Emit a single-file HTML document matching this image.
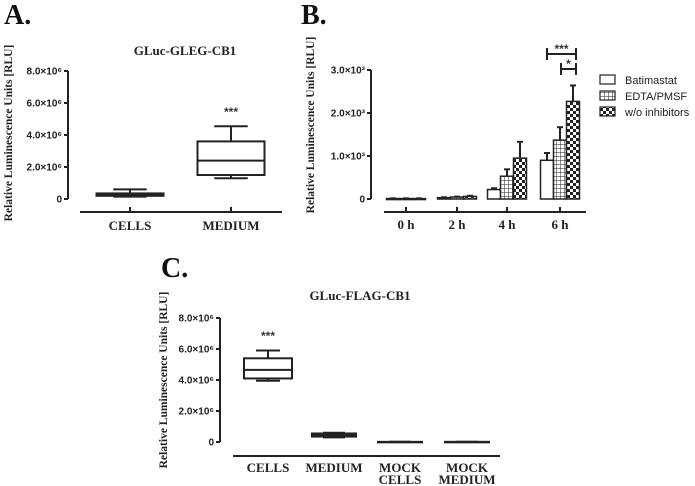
<!DOCTYPE html>
<html><head><meta charset="utf-8"><style>
html,body{margin:0;padding:0;background:#fff;}
svg{display:block;}
.tk{font-family:"Liberation Sans",Arial,sans-serif;font-weight:bold;font-size:10px;fill:#222;}
.cat{font-family:"Liberation Serif",serif;font-weight:bold;font-size:13px;fill:#222;}
.ttl{font-family:"Liberation Serif",serif;font-weight:bold;font-size:13px;fill:#222;}
.yl{font-family:"Liberation Serif",serif;font-weight:bold;font-size:11.5px;fill:#222;}
.pl{font-family:"Liberation Serif",serif;font-weight:bold;font-size:28px;fill:#111;}
.lg{font-family:"Liberation Sans",Arial,sans-serif;font-size:11px;fill:#222;}
.st{font-family:"Liberation Sans",Arial,sans-serif;font-weight:bold;font-size:12px;fill:#333;}
</style></head><body>
<svg id="fig" width="695" height="486" viewBox="0 0 695 486" xmlns="http://www.w3.org/2000/svg">
<defs>
<pattern id="grid" width="4" height="4" patternUnits="userSpaceOnUse"><rect width="4" height="4" fill="#fff"/><path d="M0 0H4M0 0V4" stroke="#222" stroke-width="1"/></pattern>
<pattern id="check" width="6" height="6" patternUnits="userSpaceOnUse"><rect width="6" height="6" fill="#fff"/><rect width="3" height="3" fill="#222"/><rect x="3" y="3" width="3" height="3" fill="#222"/></pattern>
</defs>
<text class="pl" x="4" y="24">A.</text>
<text class="pl" x="301" y="24">B.</text>
<text class="pl" x="161" y="277">C.</text>
<g id="gA"></g><g id="gB"></g><g id="gC"></g>
</svg>
<script>
// Panel A data
const catsA = ["CELLS","MEDIUM"];
const boxA = [[0.15,0.2,0.25,0.35,0.6],[1.3,1.5,2.4,3.6,4.55]]; // min,q1,med,q3,max (x10^6)
const ticksA = [0,2,4,6,8];
const tickLabA = ["0","2.0×10⁶","4.0×10⁶","6.0×10⁶","8.0×10⁶"];
// Panel B data
const catsB = ["0 h","2 h","4 h","6 h"];
const seriesB = ["Batimastat","EDTA/PMSF","w/o inhibitors"];
const batimastat = [10,30,220,900];
const edta = [10,45,530,1370];
const woInhib = [10,60,950,2270];
const errBat = [5,10,30,170];
const errEdta = [5,10,160,300];
const errWo = [5,15,380,370];
const ticksB = [0,1000,2000,3000];
const tickLabB = ["0","1.0×10³","2.0×10³","3.0×10³"];
// Panel C data
const catsC = [["CELLS"],["MEDIUM"],["MOCK","CELLS"],["MOCK","MEDIUM"]];
const boxC = [[3.95,4.1,4.65,5.4,5.9],[0.3,0.35,0.45,0.55,0.6],[0,0,0,0.01,0.02],[0,0,0,0.01,0.02]];
const ticksC = [0,2,4,6,8];
const tickLabC = ["0","2.0×10⁶","4.0×10⁶","6.0×10⁶","8.0×10⁶"];

const NS="http://www.w3.org/2000/svg";
function mk(p,tag,at,txt){const e=document.createElementNS(NS,tag);for(const k in at)e.setAttribute(k,at[k]);if(txt!=null)e.textContent=txt;p.appendChild(e);return e;}
const L={stroke:"#222","stroke-width":2,fill:"none"};

function axisY(g,x,y,ticks,labs,name){
  let a=mk(g,"line",Object.assign({x1:x,x2:x,y1:y(ticks[ticks.length-1]),y2:y(0)},L));
  
  
  ticks.forEach((t,i)=>{
    mk(g,"line",Object.assign({x1:x-4,x2:x,y1:y(t),y2:y(t)},L));
    let tx=mk(g,"text",{class:"tk",x:x-6,y:y(t)+3.5,"text-anchor":"end"},labs[i]);
    
    
  });
}
function box(g,cx,w,b,y,name){
  const gg=mk(g,"g",{});
  
  
  mk(gg,"line",Object.assign({x1:cx,x2:cx,y1:y(b[0]),y2:y(b[4])},L));
  mk(gg,"line",Object.assign({x1:cx-w/4,x2:cx+w/4,y1:y(b[0]),y2:y(b[0])},L));
  mk(gg,"line",Object.assign({x1:cx-w/4,x2:cx+w/4,y1:y(b[4]),y2:y(b[4])},L));
  mk(gg,"rect",{x:cx-w/2,y:y(b[3]),width:w,height:Math.max(y(b[1])-y(b[3]),0.5),fill:"#fff",stroke:"#222","stroke-width":2});
  mk(gg,"line",Object.assign({x1:cx-w/2,x2:cx+w/2,y1:y(b[2]),y2:y(b[2])},L));
}
function ylabel(g,x,cy,name){
  let t=mk(g,"text",{class:"yl",x:0,y:0,"text-anchor":"middle",transform:`translate(${x},${cy}) rotate(-90)`},"Relative Luminescence Units [RLU]");
  
  
}

// Panel A
(function(){
  const g=document.getElementById('gA');
  const y=v=>199-v*16;
  axisY(g,68,y,ticksA,tickLabA,'panel-a');
  let xl=mk(g,"line",Object.assign({x1:80,x2:282,y1:212,y2:212},L));
  
  
  const xc=[130,231];
  catsA.forEach((c,i)=>{
    mk(g,"line",Object.assign({x1:xc[i],x2:xc[i],y1:212,y2:207},L));
    let t=mk(g,"text",{class:"cat",x:xc[i],y:230,"text-anchor":"middle"},c);
    
    
    box(g,xc[i],67,boxA[i],y,'box-'+c.toLowerCase());
  });
  let s=mk(g,"text",{class:"st",x:231,y:116,"text-anchor":"middle"},"***");
  
  
  let t=mk(g,"text",{class:"ttl",x:185,y:55,"text-anchor":"middle"},"GLuc-GLEG-CB1");
  
  
  ylabel(g,12,133,'panel-a-y-axis-title');
})();

// Panel B
(function(){
  const g=document.getElementById('gB');
  const y=v=>199-v*0.043;
  axisY(g,371,y,ticksB,tickLabB,'panel-b');
  let xl=mk(g,"line",Object.assign({x1:384,x2:586,y1:212,y2:212},L));
  
  
  const xc=[406,457,507,560];
  const vals=[batimastat,edta,woInhib], errs=[errBat,errEdta,errWo], fills=["#fff","url(#grid)","url(#check)"];
  const bw=13;
  catsB.forEach((c,i)=>{
    mk(g,"line",Object.assign({x1:xc[i],x2:xc[i],y1:212,y2:207},L));
    let t=mk(g,"text",{class:"cat",x:xc[i],y:229,"text-anchor":"middle","font-size":"11"},c);
    
    
    vals.forEach((s,j)=>{
      const x0=xc[i]-1.5*bw+j*bw;
      const top=y(s[i]), et=y(s[i]+errs[j][i]);
      mk(g,"line",Object.assign({x1:x0+bw/2,x2:x0+bw/2,y1:top,y2:et},L));
      mk(g,"line",Object.assign({x1:x0+bw/2-3,x2:x0+bw/2+3,y1:et,y2:et},L));
      let r=mk(g,"rect",{x:x0,y:top,width:bw,height:Math.max(y(0)-top,1),fill:fills[j],stroke:"#222","stroke-width":1.5});
      
      
    });
  });
  const br=[[547,576,54,"***"],[561,576,69,"*"]];
  br.forEach((b,k)=>{
    const gg=mk(g,"g",{});
    
    
    mk(gg,"line",Object.assign({x1:b[0],x2:b[1],y1:b[2],y2:b[2]},L));
    mk(gg,"line",Object.assign({x1:b[0],x2:b[0],y1:b[2]-6,y2:b[2]+6},L));
    mk(gg,"line",Object.assign({x1:b[1],x2:b[1],y1:b[2]-6,y2:b[2]+6},L));
    mk(gg,"text",{class:"st",x:(b[0]+b[1])/2,y:b[2]-1,"text-anchor":"middle","font-size":"10"},b[3]);
  });
  seriesB.forEach((s,j)=>{
    const gg=mk(g,"g",{});
    
    
    mk(gg,"rect",{x:600,y:75+j*16,width:15,height:9,fill:fills[j],stroke:"#222","stroke-width":1.2});
    mk(gg,"text",{class:"lg",x:625,y:84+j*16},s);
  });
  ylabel(g,314,125,'panel-b-y-axis-title');
})();

// Panel C
(function(){
  const g=document.getElementById('gC');
  const y=v=>442-v*15.5;
  axisY(g,220,y,ticksC,tickLabC,'panel-c');
  let xl=mk(g,"line",Object.assign({x1:233,x2:500,y1:456,y2:456},L));
  
  
  const xc=[268,334,400,467];
  catsC.forEach((c,i)=>{
    c.forEach((ln,k)=>{
      let t=mk(g,"text",{class:"cat",x:xc[i],y:472+k*12,"text-anchor":"middle"},ln);
      
      
    });
    box(g,xc[i],(i==0?48:44),boxC[i],y,'box-c-'+c.join('-').toLowerCase());
  });
  let s=mk(g,"text",{class:"st",x:268,y:340,"text-anchor":"middle"},"***");
  
  
  let t=mk(g,"text",{class:"ttl",x:360,y:300,"text-anchor":"middle"},"GLuc-FLAG-CB1");
  
  
  ylabel(g,167,380,'panel-c-y-axis-title');
})();
</script>
</body></html>
